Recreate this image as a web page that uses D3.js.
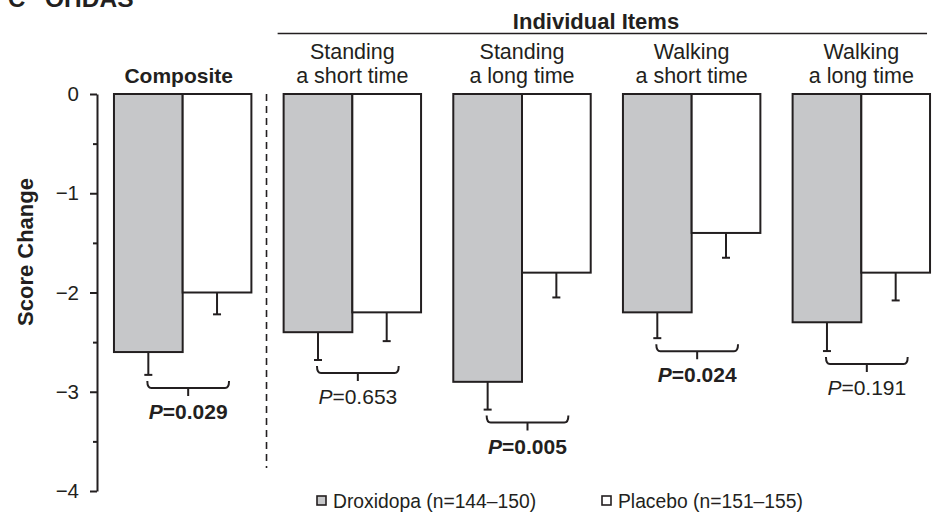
<!DOCTYPE html>
<html>
<head>
<meta charset="utf-8">
<script src="https://cdn.jsdelivr.net/npm/d3@7"></script>
<style>
body{margin:0;background:#fff}
text{font-family:"Liberation Sans",Arial,Helvetica,sans-serif;fill:#231f20}
</style>
</head>
<body>
<div id="graph"></div>
<script>
"use strict"
var categories=["Composite","Standing a short time","Standing a long time","Walking a short time","Walking a long time"]
var labelLines=[["Composite"],["Standing","a short time"],["Standing","a long time"],["Walking","a short time"],["Walking","a long time"]]
var series=["Droxidopa","Placebo"]
var droxidopa=[-2.6,-2.4,-2.9,-2.2,-2.3]
var droxidopaSE=[0.23,0.28,0.28,0.26,0.29]
var placebo=[-2.0,-2.2,-1.8,-1.4,-1.8]
var placeboSE=[0.22,0.29,0.25,0.25,0.28]
var pValues=["0.029","0.653","0.005","0.024","0.191"]
var yTicks=[0,-1,-2,-3,-4]
var yMinorTicks=[-0.5,-1.5,-2.5,-3.5]
var legendLabels=["Droxidopa (n=144\u2013150)","Placebo (n=151\u2013155)"]

var ink="#231f20"
var fills={"Droxidopa":"#c6c7c9","Placebo":"#ffffff"}

var svg=d3.select("#graph").append("svg").attr("width",937).attr("height",514)

var y=d3.scaleLinear().domain([-4,0]).range([491,94])
var x0=d3.scaleBand().domain(categories).range([97,947]).paddingInner(0.19).paddingOuter(0.1)
var x1=d3.scaleBand().domain(series).range([0,x0.bandwidth()])

// title, cut at the top edge like the source figure
svg.append("text").attr("x",8).attr("y",7).attr("font-size",24).attr("font-weight","bold").text("C")
svg.append("text").attr("x",45).attr("y",7).attr("font-size",24.5).attr("font-weight","bold").text("OHDAS")

// axis
var yAxis=svg.append("g").attr("transform","translate(97,0)")
  .call(d3.axisLeft(y).tickValues(yTicks).tickSize(7).tickSizeOuter(0).tickPadding(11).tickFormat(d3.format("d")))
yAxis.select(".domain").attr("stroke",ink).attr("stroke-width",2)
yAxis.selectAll(".tick line").attr("stroke",ink).attr("stroke-width",2)
yAxis.selectAll(".tick text").attr("font-size",20.5).attr("font-family","Liberation Sans,Arial,sans-serif").attr("fill",ink)
var yMinor=svg.append("g").attr("transform","translate(97,0)")
  .call(d3.axisLeft(y).tickValues(yMinorTicks).tickSize(4).tickFormat(""))
yMinor.select(".domain").remove()
yMinor.selectAll(".tick line").attr("stroke",ink).attr("stroke-width",2)

svg.append("text").attr("transform","translate(33,252) rotate(-90)").attr("text-anchor","middle")
  .attr("font-size",22).attr("font-weight","bold").text("Score Change")

// dashed divider between composite and individual items
var divX=(x0(categories[0])+x0.bandwidth()+x0(categories[1]))/2-1
svg.append("line").attr("x1",divX).attr("x2",divX).attr("y1",y(0)).attr("y2",468)
  .attr("stroke",ink).attr("stroke-width",1.6).attr("stroke-dasharray","7,5")

// header
var hx1=x0(categories[1])-6,hx2=x0(categories[4])+x0.bandwidth()-3
svg.append("line").attr("x1",hx1).attr("x2",hx2).attr("y1",33.5).attr("y2",33.5).attr("stroke",ink).attr("stroke-width",1.5)
svg.append("text").attr("x",596).attr("y",28.5).attr("text-anchor","middle").attr("font-size",22).attr("font-weight","bold").text("Individual Items")

// category labels
categories.forEach(function(c,i){
  var cx=x0(c)+x0.bandwidth()/2
  var lines=labelLines[i]
  var t=svg.append("text").attr("text-anchor","middle").attr("font-size",21.5)
  if(lines.length==1){
    t.attr("x",cx-4).attr("y",82.5).attr("font-weight","bold").attr("font-size",21).text(lines[0])
  }else{
    t.append("tspan").attr("x",cx).attr("y",58.5).text(lines[0])
    t.append("tspan").attr("x",cx).attr("y",82.5).text(lines[1])
  }
})

// bars and error bars
var rows=categories.map(function(c,i){
  return [{cat:c,s:"Droxidopa",v:droxidopa[i],se:droxidopaSE[i]},{cat:c,s:"Placebo",v:placebo[i],se:placeboSE[i]}]
})
var groups=svg.selectAll(".grp").data(rows).enter().append("g").attr("class","grp")
  .attr("transform",function(d,i){return "translate("+x0(categories[i])+",0)"})
groups.selectAll("line.err").data(function(d){return d}).enter().append("line").attr("class","err")
  .attr("x1",function(d){return x1(d.s)+x1.bandwidth()/2}).attr("x2",function(d){return x1(d.s)+x1.bandwidth()/2})
  .attr("y1",function(d){return y(d.v)}).attr("y2",function(d){return y(d.v-d.se)})
  .attr("stroke",ink).attr("stroke-width",2)
groups.selectAll("line.cap").data(function(d){return d}).enter().append("line").attr("class","cap")
  .attr("x1",function(d){return x1(d.s)+x1.bandwidth()/2-4}).attr("x2",function(d){return x1(d.s)+x1.bandwidth()/2+4})
  .attr("y1",function(d){return y(d.v-d.se)}).attr("y2",function(d){return y(d.v-d.se)})
  .attr("stroke",ink).attr("stroke-width",2)
groups.selectAll("rect").data(function(d){return d}).enter().append("rect")
  .attr("x",function(d){return x1(d.s)}).attr("width",x1.bandwidth())
  .attr("y",y(0)).attr("height",function(d){return y(d.v)-y(0)})
  .attr("fill",function(d){return fills[d.s]}).attr("stroke",ink).attr("stroke-width",2)

// brackets with p values
categories.forEach(function(c,i){
  var xa=x0(c)+x1("Droxidopa")+x1.bandwidth()/2-1
  var xb=x0(c)+x1("Placebo")+x1.bandwidth()/2+12
  var top=y(droxidopa[i]-droxidopaSE[i])+6
  var h=top+7
  var mid=(xa+xb)/2
  svg.append("path").attr("fill","none").attr("stroke",ink).attr("stroke-width",2)
    .attr("d","M"+xa+","+top+"Q"+xa+","+h+" "+(xa+4)+","+h+"L"+(xb-4)+","+h+"Q"+xb+","+h+" "+xb+","+top+"M"+mid+","+h+"L"+mid+","+(h+8))
  var sig=parseFloat(pValues[i])<0.05
  var t=svg.append("text").attr("x",mid).attr("y",h+31).attr("text-anchor","middle").attr("font-size",21)
    .attr("font-weight",sig?"bold":"normal")
  t.append("tspan").attr("font-style","italic").text("P")
  t.append("tspan").text("="+pValues[i])
})

// legend
var legX=[317,602]
series.forEach(function(s,i){
  svg.append("rect").attr("x",legX[i]).attr("y",496).attr("width",9).attr("height",9)
    .attr("fill",fills[s]).attr("stroke",ink).attr("stroke-width",1.6)
  svg.append("text").attr("x",legX[i]+16).attr("y",507.5).attr("font-size",19.3).text(legendLabels[i])
})
</script>
</body>
</html>
